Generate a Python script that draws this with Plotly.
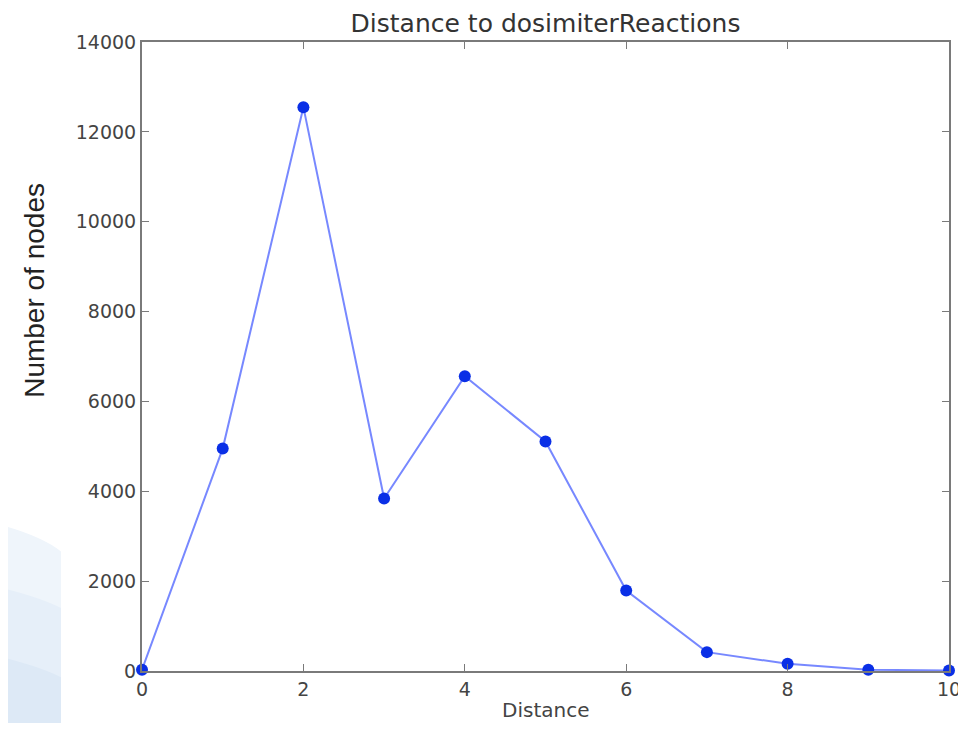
import plotly.graph_objects as go

distance = [0, 1, 2, 3, 4, 5, 6, 7, 8, 9, 10]
num_nodes = [30, 4950, 12550, 3840, 6560, 5110, 1790, 420, 160, 30, 10]

x_ticks = [0, 2, 4, 6, 8, 10]
y_ticks = [0, 2000, 4000, 6000, 8000, 10000, 12000, 14000]

fig = go.Figure()
fig.add_trace(go.Scatter(
    x=distance, y=num_nodes, mode="lines",
    line=dict(color="rgba(95,115,255,0.85)", width=2),
    showlegend=False, cliponaxis=False, hoverinfo="skip"))
fig.add_trace(go.Scatter(
    x=distance, y=num_nodes, mode="markers",
    marker=dict(color="#0a2fe6", size=12),
    showlegend=False, cliponaxis=False))

axis_common = dict(showgrid=False, zeroline=False, showline=True, linecolor="#7a7a7a",
                   linewidth=2, mirror="ticks", ticks="inside", ticklen=7, tickcolor="#7a7a7a",
                   automargin=False,
                   tickfont=dict(family="DejaVu Sans", size=19, color="#444444"))

fig.update_xaxes(range=[0, 10], tickvals=x_ticks, **axis_common)
fig.update_yaxes(range=[0, 14000], tickvals=y_ticks, tickformat="d", **axis_common)

XL = -0.1004
shapes = [
    dict(type="path", xref="paper", yref="paper", layer="below",
         path=f"M -0.2,0.24 Q -0.13,0.22 {XL},0.19 L {XL},-0.12 L -0.2,-0.12 Z",
         fillcolor="#eff5fb", line=dict(width=0)),
    dict(type="path", xref="paper", yref="paper", layer="below",
         path=f"M -0.2,0.14 Q -0.13,0.12 {XL},0.10 L {XL},-0.12 L -0.2,-0.12 Z",
         fillcolor="#e6eff9", line=dict(width=0)),
    dict(type="path", xref="paper", yref="paper", layer="below",
         path=f"M -0.2,0.03 Q -0.13,0.01 {XL},-0.01 L {XL},-0.12 L -0.2,-0.12 Z",
         fillcolor="#dde9f6", line=dict(width=0)),
]

W, H = 958, 715
fig.update_layout(
    width=W, height=H,
    margin=dict(l=134, r=W - 134 - 807, t=34, b=H - 34 - 629, autoexpand=False),
    paper_bgcolor="white", plot_bgcolor="white",
    shapes=shapes,
    title=dict(text="Distance to dosimiterReactions", x=0.5, xref="paper", xanchor="center",
               y=1 - 15 / H, yref="container", yanchor="middle",
               font=dict(family="DejaVu Sans", size=25, color="#333333")),
    annotations=[
        dict(text="Number of nodes", xref="paper", yref="paper",
             x=-0.1326, y=0.606, xanchor="center", yanchor="middle",
             textangle=-90, showarrow=False,
             font=dict(family="Liberation Sans", size=28, color="#222222")),
        dict(text="Distance", xref="paper", yref="paper",
             x=0.5, y=-0.062, xanchor="center", yanchor="middle", showarrow=False,
             font=dict(family="DejaVu Sans", size=20, color="#444444")),
    ],
)

fig.write_html("out.html")
